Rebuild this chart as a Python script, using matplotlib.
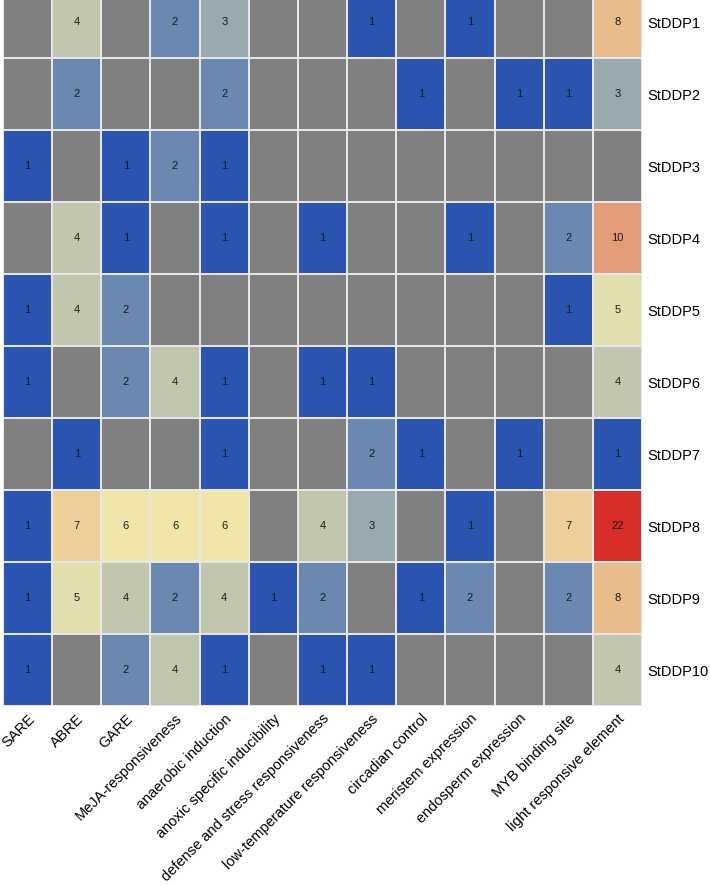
import numpy as np
import matplotlib
matplotlib.use("Agg")
import matplotlib.pyplot as plt
from matplotlib.colors import LinearSegmentedColormap, LogNorm

rows = ["StDDP1", "StDDP2", "StDDP3", "StDDP4", "StDDP5",
        "StDDP6", "StDDP7", "StDDP8", "StDDP9", "StDDP10"]
cols = ["SARE", "ABRE", "GARE", "MeJA-responsiveness", "anaerobic induction",
        "anoxic specific inducibility", "defense and stress responsiveness",
        "low-temperature responsiveness", "circadian control",
        "meristem expression", "endosperm expression", "MYB binding site",
        "light responsive element"]
n = np.nan
StDDP1 = [n, 4, n, 2, 3, n, n, 1, n, 1, n, n, 8]
StDDP2 = [n, 2, n, n, 2, n, n, n, 1, n, 1, 1, 3]
StDDP3 = [1, n, 1, 2, 1, n, n, n, n, n, n, n, n]
StDDP4 = [n, 4, 1, n, 1, n, 1, n, n, 1, n, 2, 10]
StDDP5 = [1, 4, 2, n, n, n, n, n, n, n, n, 1, 5]
StDDP6 = [1, n, 2, 4, 1, n, 1, 1, n, n, n, n, 4]
StDDP7 = [n, 1, n, n, 1, n, n, 2, 1, n, 1, n, 1]
StDDP8 = [1, 7, 6, 6, 6, n, 4, 3, n, 1, n, 7, 22]
StDDP9 = [1, 5, 4, 2, 4, 1, 2, n, 1, 2, n, 2, 8]
StDDP10 = [1, n, 2, 4, 1, n, 1, 1, n, n, n, n, 4]

data = np.array([StDDP1, StDDP2, StDDP3, StDDP4, StDDP5,
                 StDDP6, StDDP7, StDDP8, StDDP9, StDDP10], dtype=float)

stops = [(0.0, "#2B55B1"), (0.224, "#6A88B0"), (0.355, "#9AAAB0"),
         (0.448, "#C3C6AF"), (0.521, "#E2DEAE"), (0.58, "#F0E6AA"),
         (0.673, "#E8BC8C"), (0.745, "#E49C78"), (1.0, "#D72E2A")]
cmap = LinearSegmentedColormap.from_list("cre", stops)
cmap.set_bad("#808080")
norm = LogNorm(vmin=1, vmax=22)

W, H = 710, 886
fig = plt.figure(figsize=(W / 100, H / 100), dpi=100)
left, right, top, bottom = 3, 642, -14, 706
ax = fig.add_axes([left / W, 1 - bottom / H, (right - left) / W, (bottom - top) / H])

masked = np.ma.masked_invalid(data)
ax.pcolormesh(np.arange(len(cols) + 1), np.arange(len(rows) + 1), masked,
              cmap=cmap, norm=norm, edgecolors="#e6e6e6", linewidth=1.2)
ax.set_xlim(0, len(cols))
ax.set_ylim(len(rows), 0)

for i in range(len(rows)):
    for j in range(len(cols)):
        v = data[i, j]
        if not np.isnan(v):
            ax.text(j + 0.5, i + 0.5, f"{int(v)}", ha="center", va="center",
                    fontsize=8, color="#1a1a1a", family="Liberation Sans")

ax.set_xticks(np.arange(len(cols)) + 0.5)
ax.set_xticklabels(cols, rotation=45, ha="right", va="top",
                   rotation_mode="anchor", fontsize=10.5, family="Liberation Sans")
ax.set_yticks(np.arange(len(rows)) + 0.5)
ax.set_yticklabels(rows, fontsize=10.5, family="Liberation Sans")
ax.yaxis.tick_right()
ax.tick_params(axis="both", length=0)
ax.tick_params(axis="y", pad=4)
ax.tick_params(axis="x", pad=4)
for s in ax.spines.values():
    s.set_visible(False)

fig.savefig("out.png", dpi=100)
